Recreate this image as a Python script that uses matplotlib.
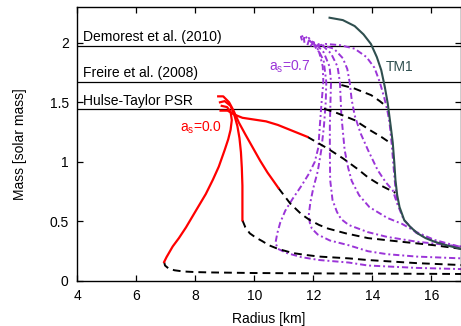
import matplotlib
matplotlib.use("Agg")
import matplotlib.pyplot as plt

# ------------------------------------------------------------
# data (radius in km, mass in solar mass)
# ------------------------------------------------------------

# observational limits
obs_names = ["Demorest et al. (2010)", "Freire et al. (2008)", "Hulse-Taylor PSR"]
obs_mass = [1.97, 1.67, 1.44]

# TM1 hadronic branch
tm1_r = [12.55, 13.0, 13.4, 13.7, 13.95, 14.15, 14.3, 14.42, 14.52, 14.62, 14.69,
         14.74, 14.78, 14.84, 14.92, 15.08, 15.3, 15.53, 15.8, 16.1, 16.5, 17.0]
tm1_m = [2.21, 2.19, 2.14, 2.07, 1.99, 1.88, 1.77, 1.63, 1.49, 1.30, 1.16,
         1.0, 0.85, 0.72, 0.62, 0.51, 0.45, 0.40, 0.36, 0.33, 0.30, 0.27]

# a_s = 0.0 (red, solid)
r1_r = [8.9, 9.08, 9.2, 9.24, 9.2, 9.12, 9.0, 8.8, 8.6, 8.36, 8.0, 7.69, 7.45, 7.24, 7.03, 6.95]
r1_m = [1.47, 1.46, 1.42, 1.35, 1.27, 1.19, 1.10, 0.96, 0.85, 0.73, 0.58, 0.45, 0.36, 0.29, 0.20, 0.16]
r2_r = [8.84, 9.0, 9.2, 9.33, 9.43, 9.5, 9.55, 9.58, 9.6, 9.6, 9.6]
r2_m = [1.50, 1.51, 1.47, 1.39, 1.30, 1.20, 1.08, 0.95, 0.80, 0.65, 0.51]
r3_r = [8.78, 8.95, 9.15, 9.3, 9.48, 9.7, 9.95, 10.2, 10.45, 10.65, 10.82]
r3_m = [1.55, 1.55, 1.50, 1.43, 1.33, 1.23, 1.12, 1.01, 0.91, 0.84, 0.78]
r4_r = [8.86, 9.1, 9.3, 9.6, 10.0, 10.4, 10.8, 11.3, 11.8]
r4_m = [1.43, 1.43, 1.40, 1.37, 1.355, 1.34, 1.31, 1.26, 1.21]

# a_s = 0.7 (purple, dash-dot)
pa_r = [11.62, 11.58, 11.7, 11.95, 12.2, 12.32, 12.34, 12.28, 12.22, 12.17, 12.05, 11.85, 11.6,
        11.3, 11.05, 10.88, 10.78, 10.72, 10.8, 11.1, 11.6, 12.2, 13.2, 13.85, 15.5, 17.0]
pa_m = [2.02, 2.05, 2.06, 2.0, 1.92, 1.8, 1.67, 1.5, 1.30, 1.12, 1.0, 0.9, 0.80,
        0.69, 0.59, 0.49, 0.40, 0.32, 0.27, 0.235, 0.2, 0.176, 0.155, 0.13, 0.11, 0.10]
pb_r = [11.7, 11.68, 11.85, 12.1, 12.35, 12.44, 12.42, 12.36, 12.27, 12.15, 12.0, 11.9, 11.85,
        11.88, 11.95, 12.15, 12.56, 13.2, 13.85, 14.5, 15.5, 17.0]
pb_m = [2.0, 2.04, 2.04, 1.97, 1.85, 1.67, 1.5, 1.30, 1.10, 0.92, 0.78, 0.66, 0.56,
        0.49, 0.44, 0.39, 0.34, 0.30, 0.25, 0.225, 0.205, 0.19]
pc_r = [11.8, 11.85, 12.05, 12.35, 12.55, 12.6, 12.58, 12.56, 12.56, 12.57, 12.65, 12.8, 12.94,
        13.2, 13.85, 14.5, 15.5, 17.0]
pc_m = [1.98, 2.02, 2.0, 1.92, 1.8, 1.67, 1.5, 1.30, 1.10, 0.85, 0.68, 0.58, 0.52,
        0.47, 0.41, 0.37, 0.33, 0.29]
pd_r = [11.9, 12.0, 12.3, 12.6, 12.82, 12.9, 12.95, 13.06, 13.18, 13.3, 13.55, 13.9, 14.5,
        15.0, 15.5, 16.1, 17.0]
pd_m = [1.97, 2.0, 1.98, 1.91, 1.8, 1.67, 1.39, 1.10, 0.95, 0.84, 0.72, 0.62, 0.53,
        0.48, 0.41, 0.345, 0.285]
pe_r = [12.0, 12.3, 12.7, 13.0, 13.15, 13.23, 13.3, 13.4, 13.6, 13.85, 14.18, 14.45, 14.69,
        14.84, 15.06, 15.48, 16.08, 17.0]
pe_m = [1.97, 1.98, 1.95, 1.87, 1.78, 1.67, 1.52, 1.39, 1.24, 1.10, 0.93, 0.83, 0.76,
        0.65, 0.515, 0.405, 0.335, 0.275]
pf_r = [12.1, 12.4, 12.9, 13.4, 13.8, 14.07, 14.25, 14.4, 14.5, 14.58, 14.65, 14.72, 14.78, 14.85]
pf_m = [1.97, 1.99, 1.98, 1.95, 1.88, 1.79, 1.67, 1.54, 1.44, 1.33, 1.16, 0.95, 0.78, 0.65]

# black dashed connecting branches
d1_r = [6.95, 6.98, 7.1, 7.3, 7.6, 8.0, 8.5, 10.0, 12.0, 14.0, 17.0]
d1_m = [0.16, 0.13, 0.105, 0.09, 0.08, 0.075, 0.072, 0.067, 0.064, 0.062, 0.059]
d2_r = [9.6, 9.7, 9.85, 10.05, 10.27, 10.5, 10.8, 11.3, 11.7, 12.2, 13.2, 13.85, 15.5, 17.0]
d2_m = [0.51, 0.45, 0.40, 0.365, 0.335, 0.30, 0.27, 0.235, 0.22, 0.205, 0.19, 0.176, 0.15, 0.134]
d3_r = [10.82, 11.22, 11.6, 11.89, 12.2, 12.5, 13.1, 13.85, 14.96, 16.1, 17.0]
d3_m = [0.78, 0.65, 0.56, 0.51, 0.47, 0.44, 0.40, 0.36, 0.33, 0.30, 0.27]
d4_r = [11.8, 12.5, 13.0, 13.5, 13.85, 14.3, 14.78]
d4_m = [1.21, 1.11, 1.03, 0.94, 0.87, 0.80, 0.74]
d5_r = [12.36, 12.8, 13.4, 13.96, 14.3, 14.63]
d5_m = [1.446, 1.41, 1.35, 1.26, 1.21, 1.155]
d6_r = [12.95, 13.4, 13.96, 14.25, 14.5]
d6_m = [1.645, 1.615, 1.56, 1.51, 1.46]


# ------------------------------------------------------------
# style
# ------------------------------------------------------------
plt.rcParams.update({
    "font.family": ["Liberation Sans", "DejaVu Sans"],
    "font.size": 10,
    "axes.linewidth": 1.0,
    "mathtext.fontset": "custom",
    "mathtext.rm": "Liberation Sans",
})

RED = "#ff0000"
PURPLE = "#9b35d8"
SLATE = "#2f4f4f"
DASH = (0, (4, 2.6))
DASHDOT = (0, (3.2, 1.5, 1.0, 1.5))

fig = plt.figure(figsize=(4.61, 3.26), dpi=100)
ax = fig.add_axes([77 / 461, 45 / 326, 384 / 461, 274 / 326])

# observational lines
for name, m in zip(obs_names, obs_mass):
    ax.axhline(m, color="black", linewidth=0.9, zorder=1)
    ax.text(4.22, m + 0.075, name, fontsize=10, ha="left", va="center")

# purple family
for rr, mm in [(pa_r, pa_m), (pb_r, pb_m), (pc_r, pc_m),
               (pd_r, pd_m), (pe_r, pe_m), (pf_r, pf_m)]:
    ax.plot(rr, mm, color=PURPLE, linewidth=1.4, linestyle=DASHDOT, zorder=2)

# dashed connectors
for rr, mm in [(d1_r, d1_m), (d2_r, d2_m), (d3_r, d3_m),
               (d4_r, d4_m), (d5_r, d5_m), (d6_r, d6_m)]:
    ax.plot(rr, mm, color="black", linewidth=1.4, linestyle=DASH, zorder=3)

# TM1
ax.plot(tm1_r, tm1_m, color=SLATE, linewidth=1.5, zorder=4)

# red family
for rr, mm in [(r1_r, r1_m), (r2_r, r2_m), (r3_r, r3_m), (r4_r, r4_m)]:
    ax.plot(rr, mm, color=RED, linewidth=1.6, zorder=5)

ax.text(7.48, 1.29, r"a$_\mathregular{s}$=0.0", color=RED, fontsize=10,
        ha="left", va="center")
ax.text(10.5, 1.80, r"a$_\mathregular{s}$=0.7", color=PURPLE, fontsize=10,
        ha="left", va="center")
ax.text(14.45, 1.80, "TM1", color=SLATE, fontsize=10, ha="left", va="center")

ax.set_xlim(4, 17)
ax.set_ylim(0, 2.3)
ax.set_xticks([4, 6, 8, 10, 12, 14, 16])
ax.set_yticks([0, 0.5, 1, 1.5, 2])
ax.set_yticklabels(["0", "0.5", "1", "1.5", "2"])
ax.tick_params(direction="in", top=True, right=True, length=4, width=0.9,
               labelsize=10)
ax.tick_params(axis="x", pad=6)
ax.tick_params(axis="y", pad=6)

ax.set_xlabel("Radius [km]", fontsize=10, labelpad=6)
ax.set_ylabel("Mass [solar mass]", fontsize=10, labelpad=16)

fig.savefig("out.png", dpi=100)
